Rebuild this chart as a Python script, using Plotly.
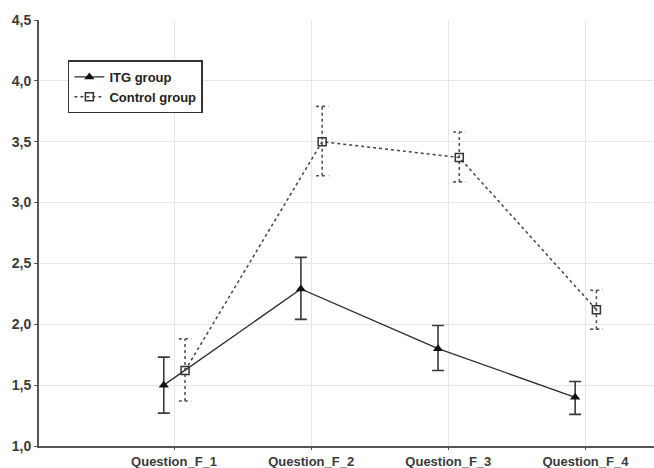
import plotly.graph_objects as go
import numpy as np

categories = ["Question_F_1", "Question_F_2", "Question_F_3", "Question_F_4"]
itg_mean = [1.50, 2.29, 1.80, 1.40]
itg_upper = [1.73, 2.55, 1.99, 1.53]
itg_lower = [1.27, 2.04, 1.62, 1.26]
ctrl_mean = [1.62, 3.50, 3.37, 2.12]
ctrl_upper = [1.88, 3.79, 3.58, 2.28]
ctrl_lower = [1.37, 3.22, 3.17, 1.96]

pos = np.arange(len(categories))
x_itg = pos - 0.075
x_ctrl = pos + 0.08

fig = go.Figure()

# ITG group
fig.add_trace(go.Scatter(
    x=x_itg, y=itg_mean, mode="lines+markers", name="ITG group",
    line=dict(color="#2b2b2b", width=1.3),
    marker=dict(symbol="triangle-up", size=9, color="#111111"),
    error_y=dict(type="data", symmetric=False,
                 array=[u - m for u, m in zip(itg_upper, itg_mean)],
                 arrayminus=[m - l for m, l in zip(itg_mean, itg_lower)],
                 color="#3a3a3a", thickness=1.6, width=6),
))

# Control group dashed error bars
cap = 0.045
ex, ey = [], []
for xc, lo, hi in zip(x_ctrl, ctrl_lower, ctrl_upper):
    ex += [xc, xc, None, xc - cap, xc + cap, None, xc - cap, xc + cap, None]
    ey += [lo, hi, None, hi, hi, None, lo, lo, None]
fig.add_trace(go.Scatter(
    x=ex, y=ey, mode="lines", showlegend=False, hoverinfo="skip",
    line=dict(color="#555555", width=1.6, dash="dot"),
))

fig.add_trace(go.Scatter(
    x=x_ctrl, y=ctrl_mean, mode="lines+markers", name="Control group",
    line=dict(color="#444444", width=1.5, dash="dot"),
    marker=dict(symbol="square-open", size=8, color="#333333", line=dict(width=1.5)),
))

xtickfont = dict(family="Liberation Sans, Arial, sans-serif", size=13, color="#3a3a3a", weight="bold")
ytickfont = dict(family="Liberation Sans, Arial, sans-serif", size=14, color="#3a3a3a", weight="bold")

fig.update_layout(
    width=654, height=468,
    margin=dict(l=39, r=0, t=20, b=22),
    paper_bgcolor="white", plot_bgcolor="white",
    separators=",.",
    font=dict(family="Liberation Sans, Arial, sans-serif", size=11, color="#333333"),
    showlegend=True,
    legend=dict(x=0.047, y=0.905, xanchor="left", yanchor="top",
                bordercolor="#333333", borderwidth=1.5, bgcolor="white",
                font=dict(size=13, color="#222222", weight="bold"),
                tracegroupgap=0, itemwidth=30),
    xaxis=dict(range=[-0.985, 3.5], tickvals=pos, ticktext=categories,
               showgrid=True, gridcolor="#e6e6e6", gridwidth=1,
               showline=True, linecolor="#555555", linewidth=2,
               ticks="outside", ticklen=2, tickcolor="#555555",
               zeroline=False, tickfont=xtickfont, automargin=False),
    yaxis=dict(range=[1.0, 4.5], dtick=0.5, tickformat=".1f",
               showgrid=True, gridcolor="#e6e6e6", gridwidth=1,
               showline=True, linecolor="#555555", linewidth=2,
               ticks="outside", ticklen=3, tickcolor="#555555",
               zeroline=False, tickfont=ytickfont, automargin=False),
)

fig.write_html("out.html")
